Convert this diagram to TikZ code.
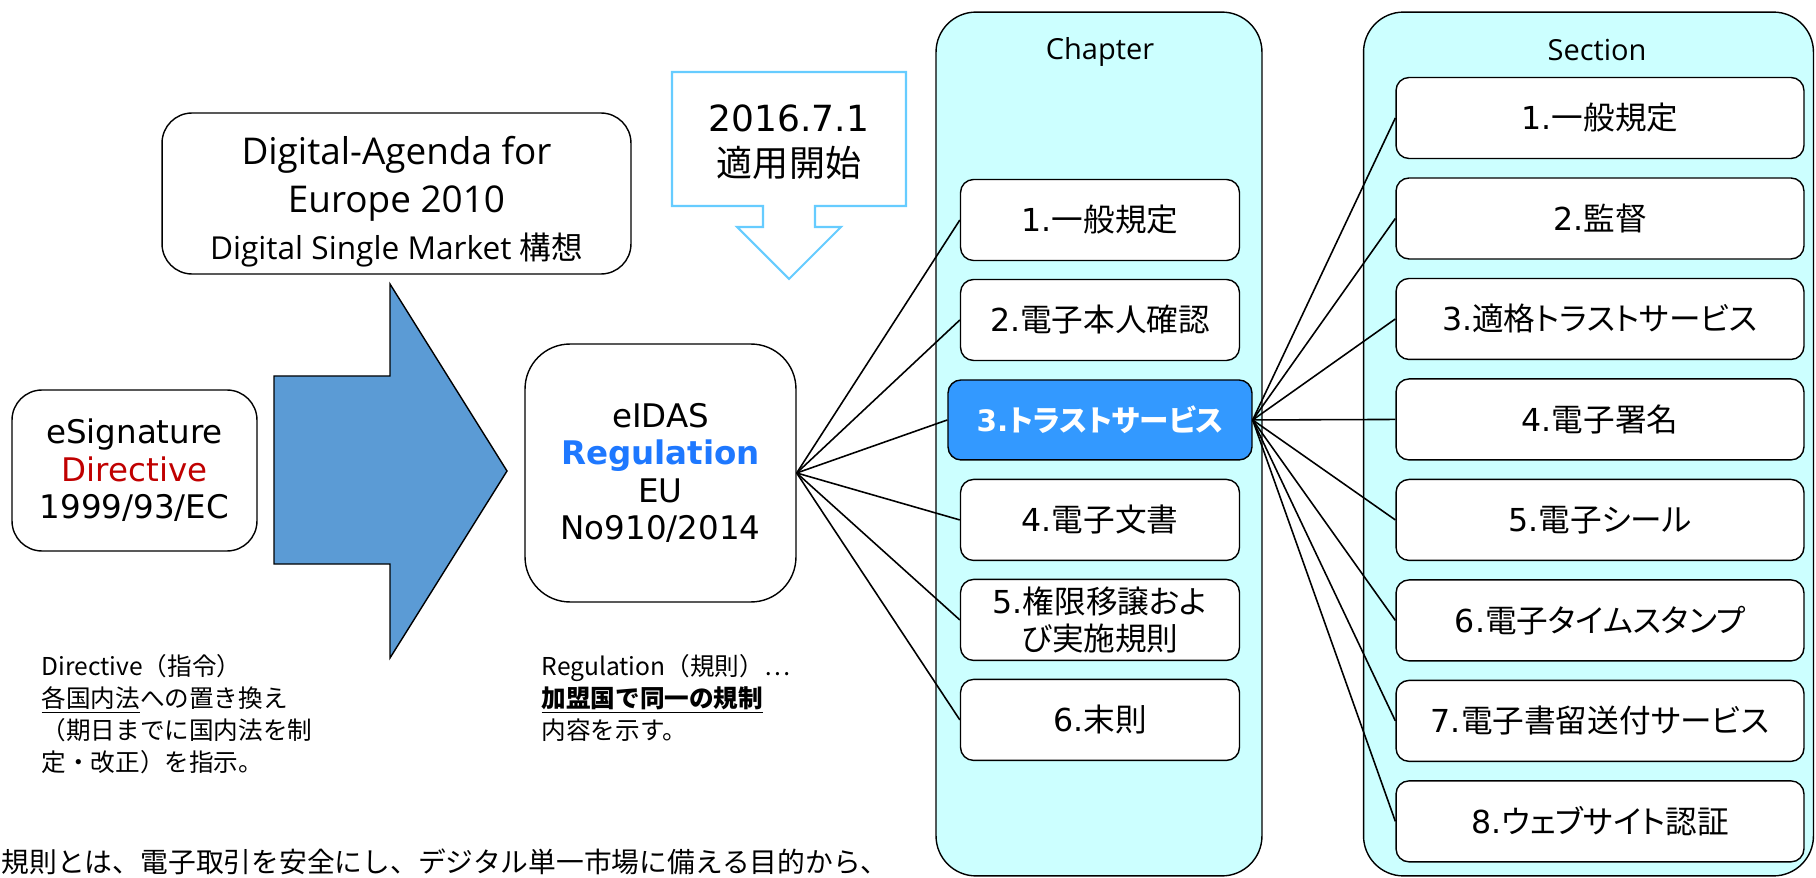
\documentclass[tikz,border=0pt]{standalone}
\usepackage{fontspec}
\setmainfont{DejaVu Sans}
\newfontfamily\jp{Noto Sans CJK JP}[RawFeature=+palt]
\newfontfamily\jpnote{Noto Sans CJK JP}
\newfontfamily\meiryo{Open Sans}
\usepackage{tikz}

\definecolor{panelcyan}{RGB}{204,255,255}
\definecolor{hotblue}{RGB}{51,153,255}
\definecolor{regblue}{RGB}{30,120,255}
\definecolor{dirred}{RGB}{192,0,0}
\definecolor{arrowblue}{RGB}{91,155,213}
\definecolor{callblue}{RGB}{102,204,255}

\begin{document}
\begin{tikzpicture}[
            x = 0.02cm, y = -0.02cm, % one unit is one pixel, y going down
            node distance = 2cm, % distance between chapter boxes
            line width = 0.8pt, % line style
            panel/.style = {draw, fill=panelcyan, rounded corners=0.8cm, minimum height=17.28cm},
            paneltitle/.style = {font=\meiryo\fontsize{16.5}{20}\selectfont},
            lawbox/.style = {draw, fill=white, align=center, inner sep=0pt, font=\fontsize{18.5}{21.3}\selectfont},
            chapbox/.style = {draw, fill=white, rounded corners=0.26cm, align=center, inner sep=0pt,
                              minimum width=5.58cm, minimum height=1.62cm, font=\fontsize{18}{21}\selectfont},
            hotbox/.style = {chapbox, fill=hotblue, text=white, minimum width=6.08cm, minimum height=1.6cm,
                             font=\bfseries\fontsize{16.8}{21}\selectfont},
            secbox/.style = {chapbox, minimum width=8.16cm},
            note/.style = {align=left, inner sep=0pt, font=\jpnote\fontsize{14}{18.2}\selectfont},
            link/.style = {line width=0.9pt}
        ]

	\useasboundingbox (0,0) rectangle (1816,878);

	% the two columns
	\node[panel, minimum width=6.52cm] (chapters) at (1099,444) {};
	\node[panel, minimum width=9cm] (sections) at (1588.5,444) {};
	\node[paneltitle] (chaptitle) at (1100,52) {Chapter};
	\node[paneltitle] (sectitle) at (1597,50) {Section};

	% block arrows
	\draw[fill=arrowblue] (274,376) -- (390,376) -- (390,284) -- (507,471) -- (390,658) -- (390,564) -- (274,564) -- cycle;
	\draw[draw=callblue, line width=1.2pt, fill=white] (672,72) -- (906,72) -- (906,206) -- (815,206) -- (815,227)
		-- (841,227) -- (789,279) -- (737,227) -- (763,227) -- (763,206) -- (672,206) -- cycle;
	\node[align=center, font=\fontsize{20.5}{25.5}\selectfont] (start) at (789,142) {2016.7.1\\{\jp 適用開始}};

	\node[lawbox, rounded corners=0.6cm, minimum width=4.9cm, minimum height=3.22cm] (esig) at (134.5,470.5)
		{eSignature\\\textcolor{dirred}{Directive}\\1999/93/EC};
	\node[lawbox, rounded corners=0.6cm, minimum width=9.38cm, minimum height=3.22cm] (agenda) at (396.5,193.5) {};
	\node[align=center, font=\meiryo\fontsize{21}{27}\selectfont] (agendatext) at (396.5,202)
		{Digital-Agenda for\\Europe 2010\\{\fontsize{18}{27}\selectfont Digital Single Market {\jp 構想}}};
	\node[lawbox, rounded corners=0.9cm, minimum width=5.42cm, minimum height=5.16cm] (eidas) at (660.5,473)
		{eIDAS\\\textbf{\textcolor{regblue}{Regulation}}\\EU\\No910/2014};

	\node[chapbox] (c1) at (1100,220) {1.{\jp 一般規定}};
	\node[chapbox] (c2) [below of=c1] {2.{\jp 電子本人確認}};
	\node[hotbox] (c3) [below of=c2] {3.{\jp トラストサービス}};
	\node[chapbox] (c4) [below of=c3] {4.{\jp 電子文書}};
	\node[chapbox] (c5) [below of=c4] {5.{\jp 権限移譲およ}\\{\jp び実施規則}};
	\node[chapbox] (c6) [below of=c5] {6.{\jp 末則}};

	\begin{scope}[node distance = 2.01cm]
	\node[secbox] (s1) at (1600,118) {1.{\jp 一般規定}};
	\node[secbox] (s2) [below of=s1] {2.{\jp 監督}};
	\node[secbox] (s3) [below of=s2] {3.{\jp 適格トラストサービス}};
	\node[secbox] (s4) [below of=s3] {4.{\jp 電子署名}};
	\node[secbox] (s5) [below of=s4] {5.{\jp 電子シール}};
	\node[secbox] (s6) [below of=s5] {6.{\jp 電子タイムスタンプ}};
	\node[secbox] (s7) [below of=s6] {7.{\jp 電子書留送付サービス}};
	\node[secbox] (s8) [below of=s7] {8.{\jp ウェブサイト認証}};
	\end{scope}

	\draw[link] (eidas.east) -- (c1.west);
	\draw[link] (eidas.east) -- (c2.west);
	\draw[link] (eidas.east) -- (c3.west);
	\draw[link] (eidas.east) -- (c4.west);
	\draw[link] (eidas.east) -- (c5.west);
	\draw[link] (eidas.east) -- (c6.west);

	\draw[link] (c3.east) -- (s1.west);
	\draw[link] (c3.east) -- (s2.west);
	\draw[link] (c3.east) -- (s3.west);
	\draw[link] (c3.east) -- (s4.west);
	\draw[link] (c3.east) -- (s5.west);
	\draw[link] (c3.east) -- (s6.west);
	\draw[link] (c3.east) -- (s7.west);
	\draw[link] (c3.east) -- (s8.west);

	% notes under the boxes
	\node[note, anchor=north west] (dirnote) at (41,654)
		{Directive（指令）\\\underline{各国内法}への置き換え\\（期日までに国内法を制\\定・改正）を指示。};
	\node[note, anchor=north west] (regnote) at (541,654)
		{Regulation（規則）…\\\textbf{\underline{加盟国で同一の規制}}\\内容を示す。};
	\node[anchor=base west, inner sep=0pt, font=\jpnote\fontsize{15.8}{18}\selectfont] (summary) at (1,872)
		{規則とは、電子取引を安全にし、デジタル単一市場に備える目的から、};

\end{tikzpicture}
\end{document}
